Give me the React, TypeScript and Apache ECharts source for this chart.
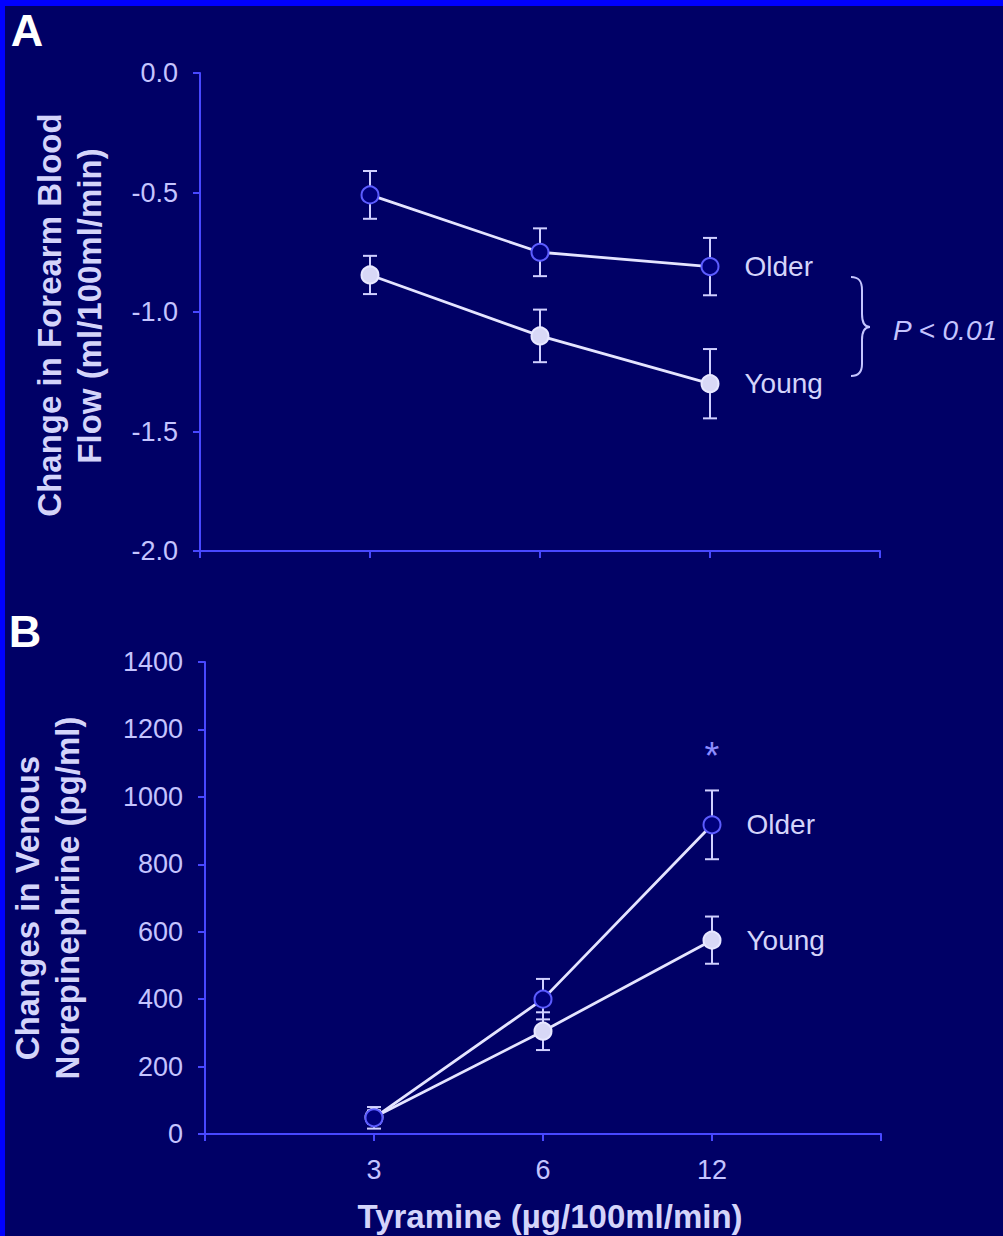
import React, { useEffect, useRef } from "react";
import * as echarts from "echarts";

// ---- data ----
const doses = ["3", "6", "12"];
const flowOlder = [-0.51, -0.75, -0.81];
const flowOlderErr = [0.1, 0.1, 0.12];
const flowYoung = [-0.845, -1.1, -1.3];
const flowYoungErr = [0.08, 0.11, 0.145];
const neOlder = [48, 400, 917];
const neOlderErr = [32, 60, 102];
const neYoung = [50, 305, 575];
const neYoungErr = [20, 56, 70];

const BG = "#000066";
const AX = "#4848ff";
const TXT = "#c4c4ff";
const TITLE = "#d4d4fa";
const LINE = "#e4e4ff";
const ERR = "#d0d0ff";
const FONT = "'Liberation Sans', Arial, Helvetica, sans-serif";

const BRACE_D =
  "M851,277 C859,277 862,281 862,290 L862,314 C862,322 864,327 870,327 C864,327 862,332 862,340 L862,364 C862,372 859,376 851,376";

const errRender = (color: string) => (params: any, api: any) => {
  const x = api.value(0);
  const y = api.value(1);
  const e = api.value(2);
  const c = api.coord([x, y]);
  const hi = api.coord([x, y + e]);
  const lo = api.coord([x, y - e]);
  const w = 7;
  const style = { stroke: color, lineWidth: 2 };
  return {
    type: "group",
    children: [
      { type: "line", shape: { x1: c[0], y1: hi[1], x2: c[0], y2: lo[1] }, style },
      { type: "line", shape: { x1: c[0] - w, y1: hi[1], x2: c[0] + w, y2: hi[1] }, style },
      { type: "line", shape: { x1: c[0] - w, y1: lo[1], x2: c[0] + w, y2: lo[1] }, style },
    ],
  };
};

const lineData = (vals: number[], name: string) =>
  vals.map((v, i) =>
    i === vals.length - 1
      ? {
          value: [i + 1, v],
          label: {
            show: true,
            position: "right",
            distance: 25,
            formatter: name,
            color: TITLE,
            fontSize: 28,
            fontFamily: FONT,
          },
        }
      : { value: [i + 1, v] }
  );

const errData = (vals: number[], errs: number[]) => vals.map((v, i) => [i + 1, v, errs[i]]);

const xAxisBase = (gridIndex: number, showLabels: boolean) => ({
  gridIndex,
  type: "value",
  min: 0,
  max: 4,
  interval: 1,
  axisLine: { show: true, onZero: false, lineStyle: { color: AX, width: 2 } },
  axisTick: { show: true, length: 7, lineStyle: { color: AX, width: 2 } },
  splitLine: { show: false },
  axisLabel: {
    show: showLabels,
    margin: 22,
    fontSize: 27,
    color: TXT,
    fontFamily: FONT,
    formatter: (v: number) => doses[v - 1] ?? "",
  },
});

export default function App() {
  const ref = useRef<HTMLDivElement>(null);
  useEffect(() => {
    if (!ref.current) return;
    echarts.graphic.registerShape("brace", echarts.graphic.extendPath(BRACE_D, {}) as any);
    const chart = echarts.init(ref.current, null, { renderer: "svg" });
    const olderItem = { color: "#00007c", borderColor: "#5c5cff", borderWidth: 2 };
    const youngItem = { color: "#d8d8f6", borderColor: "#e8e8ff", borderWidth: 2 };
    const lineStyle = { color: LINE, width: 2.8 };
    chart.setOption({
      animation: false,
      backgroundColor: BG,
      grid: [
        { left: 200, top: 73, width: 680, height: 478 },
        { left: 205, top: 662, width: 676, height: 472 },
      ],
      xAxis: [xAxisBase(0, false), xAxisBase(1, true)],
      yAxis: [
        {
          gridIndex: 0,
          type: "value",
          min: -2,
          max: 0,
          interval: 0.5,
          axisLine: { show: true, onZero: false, lineStyle: { color: AX, width: 2 } },
          axisTick: { show: true, length: 7, lineStyle: { color: AX, width: 2 } },
          splitLine: { show: false },
          axisLabel: {
            margin: 22,
            fontSize: 27,
            color: TXT,
            fontFamily: FONT,
            formatter: (v: number) => v.toFixed(1),
          },
        },
        {
          gridIndex: 1,
          type: "value",
          min: 0,
          max: 1400,
          interval: 200,
          axisLine: { show: true, onZero: false, lineStyle: { color: AX, width: 2 } },
          axisTick: { show: true, length: 7, lineStyle: { color: AX, width: 2 } },
          splitLine: { show: false },
          axisLabel: {
            margin: 22,
            fontSize: 27,
            color: TXT,
            fontFamily: FONT,
            formatter: (v: number) => String(v),
          },
        },
      ],
      series: [
        // Panel A
        {
          type: "custom",
          xAxisIndex: 0,
          yAxisIndex: 0,
          renderItem: errRender(ERR),
          data: errData(flowYoung, flowYoungErr),
          z: 2,
          clip: false,
        },
        {
          type: "custom",
          xAxisIndex: 0,
          yAxisIndex: 0,
          renderItem: errRender(ERR),
          data: errData(flowOlder, flowOlderErr),
          z: 2,
          clip: false,
        },
        {
          type: "line",
          name: "Young",
          xAxisIndex: 0,
          yAxisIndex: 0,
          data: lineData(flowYoung, "Young"),
          symbol: "circle",
          symbolSize: 17,
          itemStyle: youngItem,
          lineStyle,
          z: 3,
        },
        {
          type: "line",
          name: "Older",
          xAxisIndex: 0,
          yAxisIndex: 0,
          data: lineData(flowOlder, "Older"),
          symbol: "circle",
          symbolSize: 17,
          itemStyle: olderItem,
          lineStyle,
          z: 3,
        },
        // Panel B
        {
          type: "custom",
          xAxisIndex: 1,
          yAxisIndex: 1,
          renderItem: errRender(ERR),
          data: errData(neYoung, neYoungErr),
          z: 2,
          clip: false,
        },
        {
          type: "custom",
          xAxisIndex: 1,
          yAxisIndex: 1,
          renderItem: errRender(ERR),
          data: errData(neOlder, neOlderErr),
          z: 2,
          clip: false,
        },
        {
          type: "line",
          name: "Young",
          xAxisIndex: 1,
          yAxisIndex: 1,
          data: lineData(neYoung, "Young"),
          symbol: "circle",
          symbolSize: 17,
          itemStyle: youngItem,
          lineStyle,
          z: 3,
        },
        {
          type: "line",
          name: "Older",
          xAxisIndex: 1,
          yAxisIndex: 1,
          data: lineData(neOlder, "Older"),
          symbol: "circle",
          symbolSize: 17,
          itemStyle: olderItem,
          lineStyle,
          z: 4,
        },
      ],
      graphic: [
        { type: "rect", left: 0, top: 0, shape: { x: 0, y: 0, width: 1003, height: 6 }, style: { fill: "#0000ff" }, silent: true },
        { type: "rect", left: 0, top: 0, shape: { x: 0, y: 0, width: 5, height: 1236 }, style: { fill: "#0000ff" }, silent: true },
        {
          type: "text",
          x: 27,
          y: 30,
          style: { text: "A", fill: "#ffffff", font: `bold 45px ${FONT}`, align: "center", verticalAlign: "middle" },
        },
        {
          type: "text",
          x: 25,
          y: 631,
          style: { text: "B", fill: "#ffffff", font: `bold 45px ${FONT}`, align: "center", verticalAlign: "middle" },
        },
        {
          type: "text",
          x: 49,
          y: 315,
          rotation: Math.PI / 2,
          style: { text: "Change in Forearm Blood", fill: TITLE, font: `bold 33px ${FONT}`, align: "center", verticalAlign: "middle" },
        },
        {
          type: "text",
          x: 89,
          y: 306,
          rotation: Math.PI / 2,
          style: { text: "Flow (ml/100ml/min)", fill: TITLE, font: `bold 33px ${FONT}`, align: "center", verticalAlign: "middle" },
        },
        {
          type: "text",
          x: 27,
          y: 908,
          rotation: Math.PI / 2,
          style: { text: "Changes in Venous", fill: TITLE, font: `bold 33px ${FONT}`, align: "center", verticalAlign: "middle" },
        },
        {
          type: "text",
          x: 67,
          y: 898,
          rotation: Math.PI / 2,
          style: { text: "Norepinephrine (pg/ml)", fill: TITLE, font: `bold 33px ${FONT}`, align: "center", verticalAlign: "middle" },
        },
        {
          type: "text",
          x: 550,
          y: 1216,
          style: { text: "Tyramine (\u00b5g/100ml/min)", fill: TITLE, font: `bold 33px ${FONT}`, align: "center", verticalAlign: "middle" },
        },
        {
          type: "brace",
          x: 0,
          y: 0,
          style: { fill: "none", stroke: TXT, lineWidth: 2 },
        },
        {
          type: "text",
          x: 893,
          y: 330,
          style: { text: "P < 0.01", fill: TXT, font: `italic 28px ${FONT}`, align: "left", verticalAlign: "middle" },
        },
        {
          type: "text",
          x: 712,
          y: 756,
          style: { text: "*", fill: "#8c8cff", font: `38px ${FONT}`, align: "center", verticalAlign: "middle" },
        },
      ],
    });
    return () => chart.dispose();
  }, []);
  return (
    <div
      ref={ref}
      style={{ position: "fixed", left: 0, top: 0, width: 1003, height: 1236, background: BG }}
    />
  );
}
